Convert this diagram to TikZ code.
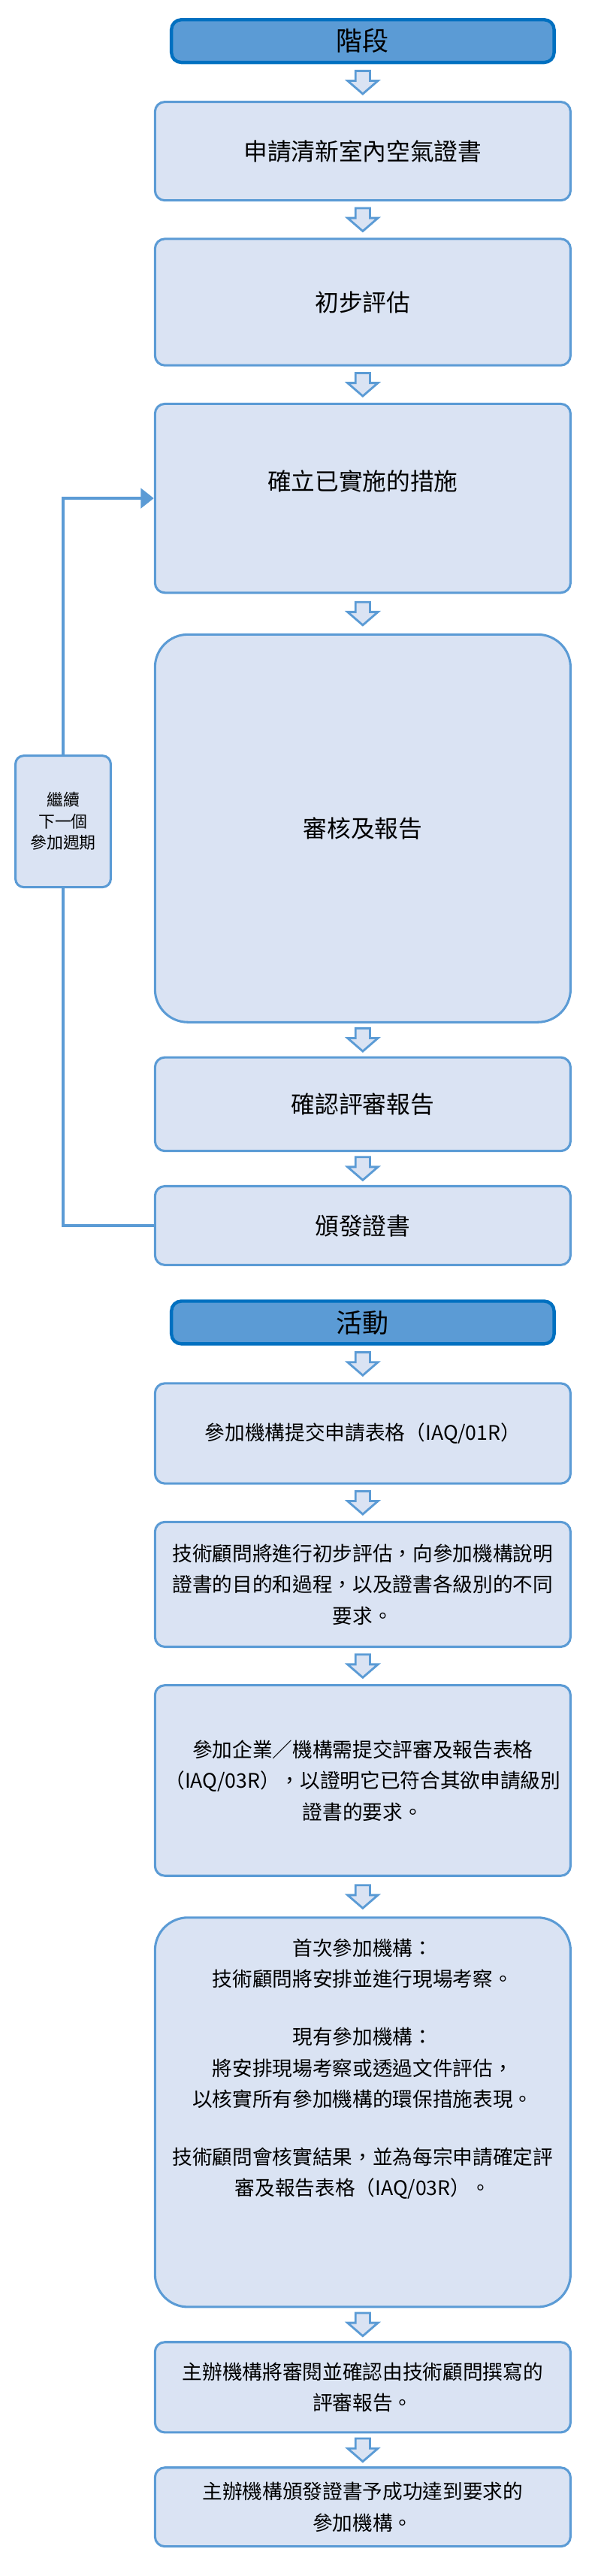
\documentclass[tikz,border=0pt]{standalone}
\usepackage{fontspec}
\setmainfont{Noto Sans CJK TC}
\usetikzlibrary{positioning,calc,arrows.meta}
\definecolor{boxfill}{HTML}{DAE3F3}
\definecolor{boxline}{HTML}{5B9BD5}
\definecolor{headline}{HTML}{0070C0}
% hollow block arrow between two stacked boxes
\newcommand{\blockarrow}[2]{%
  \coordinate (m) at ($(#1.south)!0.5!(#2.north)$);
  \draw[boxline, fill=boxfill, line width=1.3pt, line join=miter]
    ($(m)+(-4.5,-7)$) -- ($(m)+(4.5,-7)$) -- ($(m)+(4.5,-1)$) -- ($(m)+(9.5,-1)$)
    -- ($(m)+(0,7)$) -- ($(m)+(-9.5,-1)$) -- ($(m)+(-4.5,-1)$) -- cycle;}
\begin{document}
\begin{tikzpicture}[x={(0.973pt,0)}, y={(0,-1pt)}, node distance=22pt,
  main/.style = {draw=boxline, fill=boxfill, line width=1.4pt, rounded corners=6pt,
    minimum width=253pt, inner xsep=3pt, align=center, font=\fontsize{12.2}{19}\selectfont},
  head/.style = {draw=headline, fill=boxline, line width=2pt, rounded corners=6pt,
    minimum width=233pt, minimum height=26pt, font=\fontsize{16}{18}\selectfont},
  big/.style = {main, rounded corners=20pt},
  side/.style = {main, minimum width=58pt, minimum height=80pt, rounded corners=5pt,
    font=\fontsize{10}{13}\selectfont},
  loop/.style = {boxline, line width=2.2pt}]
\useasboundingbox (0,0) rectangle (376,1568);

% stages
\node[head] (h1) at (227,25) {階段};
\node[main, minimum height=60pt, font=\fontsize{14.5}{18}\selectfont] (s1) at (227,92) {申請清新室內空氣證書};
\node[main, minimum height=77pt, font=\fontsize{14.5}{18}\selectfont, below=of s1] (s2) {初步評估};
\node[main, minimum height=115pt, font=\fontsize{14.5}{18}\selectfont, below=of s2, text depth=22pt] (s3) {確立已實施的措施};
\node[big, minimum height=236pt, font=\fontsize{14.5}{18}\selectfont, below=24pt of s3] (s4) {審核及報告};
\node[main, minimum height=57pt, font=\fontsize{14.5}{18}\selectfont, below=20pt of s4] (s5) {確認評審報告};
\node[main, minimum height=48pt, font=\fontsize{14.5}{18}\selectfont, below=20pt of s5] (s6) {頒發證書};
\node[side] (next) at (39.5,500) {繼續\\下一個\\參加週期};

\blockarrow{h1}{s1}
\blockarrow{s1}{s2}
\blockarrow{s2}{s3}
\blockarrow{s3}{s4}
\blockarrow{s4}{s5}
\blockarrow{s5}{s6}

\draw[loop, -{Triangle[length=8pt,width=12pt]}] (next.north) |- (s3.west);
\draw[loop] (next.south) |- (s6.west);

% activities
\node[head] (h2) at (227,805) {活動};
\node[main, minimum height=61pt] (a1) at (227,872.5) {參加機構提交申請表格（IAQ/01R）};
\node[main, minimum height=76pt, below=of a1] (a2) {技術顧問將進行初步評估，向參加機構說明\\證書的目的和過程，以及證書各級別的不同\\要求。};
\node[main, minimum height=116pt, below=of a2] (a3) {參加企業／機構需提交評審及報告表格\\（IAQ/03R），以證明它已符合其欲申請級別\\證書的要求。};
\node[big, minimum height=237pt, below=24pt of a3, text depth=55pt] (a4) {首次參加機構：\\技術顧問將安排並進行現場考察。\\[16pt]現有參加機構：\\將安排現場考察或透過文件評估，\\以核實所有參加機構的環保措施表現。\\[16pt]技術顧問會核實結果，並為每宗申請確定評\\審及報告表格（IAQ/03R）。};
\node[main, minimum height=55pt, below=20pt of a4] (a5) {主辦機構將審閱並確認由技術顧問撰寫的\\評審報告。};
\node[main, minimum height=48pt, below=20pt of a5] (a6) {主辦機構頒發證書予成功達到要求的\\參加機構。};

\blockarrow{h2}{a1}
\blockarrow{a1}{a2}
\blockarrow{a2}{a3}
\blockarrow{a3}{a4}
\blockarrow{a4}{a5}
\blockarrow{a5}{a6}
\end{tikzpicture}
\end{document}
